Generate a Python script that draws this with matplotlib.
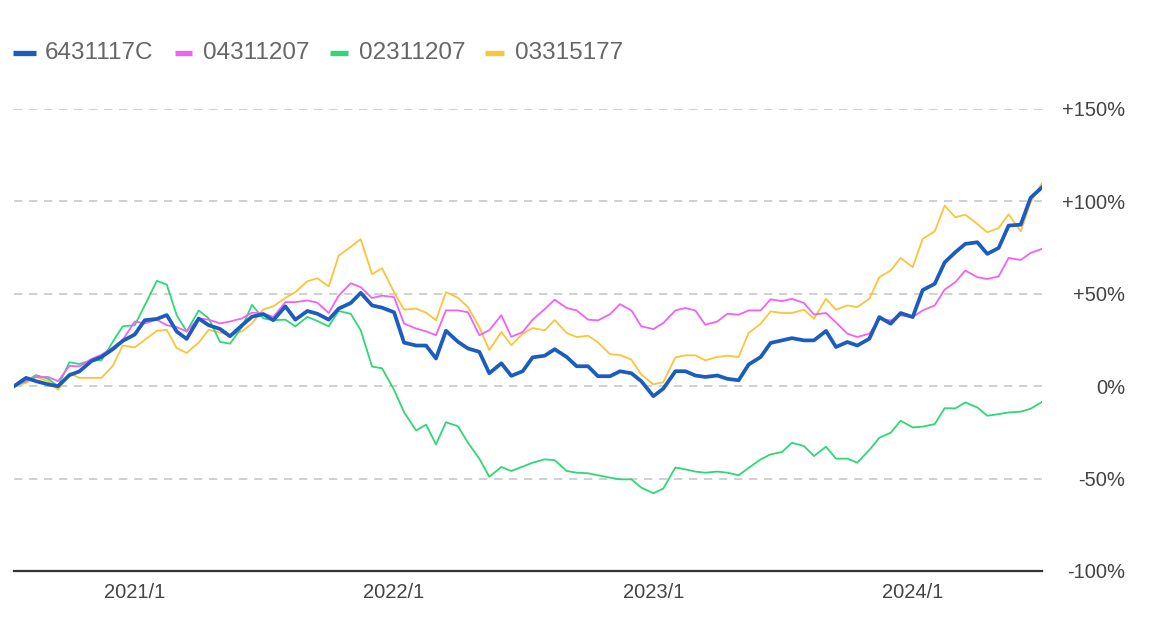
import matplotlib
matplotlib.use("Agg")
import matplotlib.pyplot as plt
import matplotlib.dates as mdates
from matplotlib.lines import Line2D
import pandas as pd

dates = pd.date_range("2020-07-15", periods=96, freq="SMS")

labels = ["6431117C", "04311207", "02311207", "03315177"]
colors = ["#1c5cbf", "#f062f5", "#2fd874", "#fcc43a"]

s_6431117C = [0, 4.5, 2.7, 1, 0, 6, 8, 13.6, 15.8, 20, 24.5, 28, 35.7, 36.4, 38.5, 29.6, 25.6, 36.6, 33, 31, 27, 33, 37.6, 39,
              35.7, 43.2, 36, 40.7, 39.2, 36, 42, 45, 50.5, 43.7, 42.5, 40, 23.6, 22, 22, 15, 30, 24, 20.4, 18.6, 7, 12.4, 5.6,
              8.1, 15.6, 16.5, 20, 15.8, 10.8, 10.8, 5.4, 5.4, 8.1, 7, 2.7, -5.4, -1.3, 8.1, 8.1, 5.8, 5, 5.8, 4, 3.2, 11.7, 15.8, 23.4,
              24.8, 26, 24.8, 24.8, 29.9, 21.2, 23.9, 22, 25.7, 37.4, 33.8, 39.6, 37.4, 52, 55.4, 67, 72.5, 77, 77.9, 71.6, 74.8, 86.9, 87.4, 102, 107.6]
s_04311207 = [0, 3, 5, 5, 2.7, 11, 10.7, 14.7, 17, 21, 25, 35, 34, 36, 33, 32, 29.6, 36.7, 36, 34, 35, 36.7, 39.8, 39.4,
              37.5, 45.5, 45.5, 46.4, 45.2, 39.6, 49, 55.7, 53.6, 47.7, 49, 48.2, 33.9, 31.2, 29.7, 27.6, 41, 41, 40, 27.6, 30.3, 38.4, 26.7,
              29.3, 36, 41.7, 46.8, 42.3, 41, 36, 35.6, 39, 44.4, 41, 32.4, 30.9, 34.2, 41, 42.3, 41, 33.3, 35, 39.2, 38.7, 41, 41, 47,
              46, 47.3, 45, 38.8, 39.6, 34.5, 28.4, 26.6, 28.4, 36.3, 35.6, 38.3, 37.4, 41, 43.7, 52.3, 56.3, 62.6, 59, 58, 59.4, 69.4, 68.3, 72.1, 74.3]
s_02311207 = [0, 2.7, 6, 4, 0, 13, 12, 14, 14, 24, 32.4, 33, 43.7, 57, 55, 38.5, 29.6, 41, 36.7, 24, 23, 32, 44, 36.7,
              35.7, 36, 32.4, 37.5, 35.3, 32.4, 40.7, 39.2, 30.3, 10.6, 9.7, -2, -14, -24, -20.8, -31.5, -19.5, -21.7, -30.6, -39.2, -49, -43.7, -45.9,
              -43.5, -41.4, -39.6, -40, -45.9, -46.8, -47.1, -48.2, -49.5, -50.4, -50.4, -54.9, -57.9, -55.4, -44, -45, -46.2, -46.8, -46.2, -46.8, -48.2, -44.2, -39.6, -36.9,
              -35.6, -30.6, -32.4, -37.8, -32.7, -39.2, -39.2, -41.4, -34.5, -27.9, -25.2, -18.7, -22.3, -21.9, -20.5, -11.9, -12, -8.8, -11.5, -16, -15.1, -14.2, -13.8, -12.2, -8.5]
s_03315177 = [0, 1.8, 5, 2.7, -2, 7, 4.5, 4.5, 4.5, 11, 22, 21, 25, 30, 30.5, 20.6, 18, 23.6, 30.5, 29, 27.8, 29.7, 34, 41.6,
              43.2, 47.8, 50.9, 56.8, 58.4, 54, 70.6, 75.4, 79.6, 60.6, 63.8, 50.9, 41.4, 42, 39.8, 35.7, 50.9, 47.8, 42.8, 32, 19.5, 29.4, 22.2,
              28.4, 31.5, 30.2, 35.8, 28.8, 26.6, 27.3, 23.7, 17.3, 16.9, 14.4, 6.3, 1, 2.2, 15.6, 16.7, 16.7, 14, 15.8, 16.5, 15.8, 28.8, 33.8, 40.5,
              39.6, 39.6, 41.4, 36.5, 47.3, 41.4, 43.7, 42.8, 47.3, 59, 62.6, 69.4, 64.4, 79.7, 83.8, 97.7, 91.4, 92.8, 87.8, 83.3, 85.6, 93, 83.8, 99.5, 110]

series = [s_6431117C, s_04311207, s_02311207, s_03315177]
widths = [2.7, 1.3, 1.3, 1.3]

yticks = [-100, -50, 0, 50, 100, 150]
yticklabels = ["-100%", "-50%", "0%", "+50%", "+100%", "+150%"]
xtick_dates = pd.to_datetime(["2021-01-01", "2022-01-01", "2023-01-01", "2024-01-01"])
xticklabels = ["2021/1", "2022/1", "2023/1", "2024/1"]

plt.rcParams['font.family'] = ['Liberation Sans', 'DejaVu Sans']

fig = plt.figure(figsize=(11.68, 6.28), dpi=100)
ax = fig.add_axes([14 / 1168, 57 / 628, 1028 / 1168, 462 / 628])

for y in [-50, 0, 50, 100, 150]:
    ax.axhline(y, color="#c8c8c8", lw=1.2, ls=(0, (5, 4)), zorder=0)

for i in reversed(range(4)):
    ax.plot(dates, series[i], color=colors[i], lw=widths[i], solid_joinstyle="round", zorder=2 + (4 - i))

ax.set_ylim(-100, 150)
ax.set_xlim(dates[0], dates[-1])
ax.set_yticks(yticks)
ax.set_yticklabels(yticklabels)
ax.yaxis.tick_right()
ax.tick_params(axis="y", length=0, pad=60, labelsize=14.5, labelcolor="#444444")
for lab in ax.get_yticklabels():
    lab.set_horizontalalignment("right")
ax.set_xticks(xtick_dates)
ax.set_xticklabels(xticklabels)
ax.tick_params(axis="x", length=0, pad=9, labelsize=14.5, labelcolor="#444444")

for side in ["top", "left", "right"]:
    ax.spines[side].set_visible(False)
ax.spines["bottom"].set_color("#333333")
ax.spines["bottom"].set_linewidth(1.6)
ax.set_facecolor("white")

# legend
H = 628
handle_x = [(13, 36), (175, 192), (330, 348), (485, 504)]
text_x = [45, 203, 359, 515]
ly = 53
for i in range(4):
    x0, x1 = handle_x[i]
    fig.add_artist(Line2D([x0 / 1168, x1 / 1168], [1 - ly / H, 1 - ly / H], color=colors[i], lw=3.8,
                          transform=fig.transFigure, solid_capstyle="butt"))
    fig.text(text_x[i] / 1168, 1 - ly / H, labels[i], fontsize=17.5, color="#666666", va="center", ha="left")

fig.savefig("out.png", dpi=100, facecolor="white")
